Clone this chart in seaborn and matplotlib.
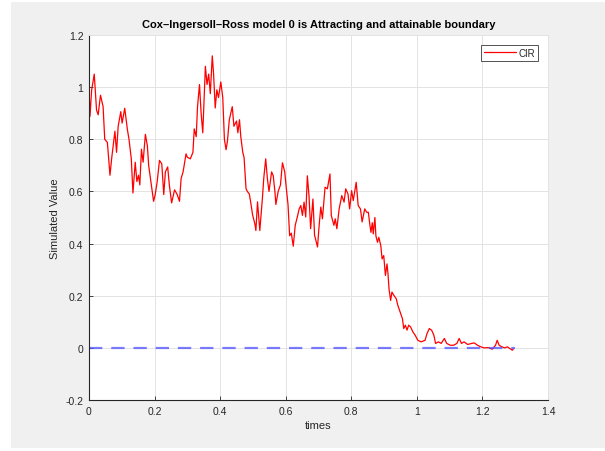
import matplotlib
matplotlib.use("Agg")
import matplotlib.pyplot as plt
from matplotlib.patches import Rectangle
import seaborn as sns

# simulated CIR path (rows of times / values line up)
times = [
    0.000, 0.003, 0.008, 0.016, 0.023, 0.028, 0.035, 0.043, 0.048, 0.056,
    0.064, 0.069, 0.079, 0.084, 0.089, 0.097, 0.101, 0.109, 0.117, 0.122,
    0.129, 0.134, 0.141, 0.146, 0.151, 0.155, 0.160, 0.165, 0.172, 0.178,
    0.182, 0.190, 0.197, 0.202, 0.208, 0.215, 0.222, 0.228, 0.233, 0.240,
    0.245, 0.252, 0.261, 0.269, 0.276, 0.281, 0.287, 0.296, 0.300,
    0.309, 0.317, 0.321, 0.327, 0.331, 0.337, 0.342, 0.347, 0.355, 0.360,
    0.365, 0.370, 0.376, 0.380, 0.385, 0.390, 0.395, 0.402, 0.408, 0.413,
    0.418, 0.422, 0.428, 0.437, 0.442, 0.450, 0.454, 0.459, 0.463, 0.469,
    0.473, 0.479, 0.483, 0.489, 0.493, 0.499, 0.506, 0.509, 0.514, 0.521,
    0.529, 0.533, 0.539, 0.544, 0.549, 0.557, 0.562, 0.567, 0.570, 0.577,
    0.584, 0.590, 0.597, 0.602, 0.607, 0.612, 0.617, 0.623, 0.629, 0.635,
    0.641, 0.646, 0.651, 0.656, 0.661, 0.666, 0.671, 0.676, 0.683, 0.688,
    0.697, 0.702, 0.707, 0.712, 0.720, 0.727, 0.735, 0.739, 0.747, 0.751,
    0.756, 0.763, 0.771, 0.778, 0.783, 0.790, 0.795, 0.801, 0.806, 0.815,
    0.821, 0.828, 0.833, 0.841, 0.847,
    0.852, 0.857, 0.860, 0.864, 0.867, 0.872, 0.875, 0.880, 0.884, 0.890,
    0.894, 0.899, 0.904, 0.909, 0.912, 0.915, 0.920, 0.924, 0.930, 0.937,
    0.942, 0.949, 0.956, 0.960, 0.965, 0.970, 0.975, 0.981, 0.988, 0.995,
    1.003, 1.013, 1.025, 1.031, 1.038, 1.045, 1.052, 1.057, 1.066, 1.074,
    1.084, 1.091, 1.102, 1.112, 1.122, 1.129, 1.136, 1.144, 1.155, 1.167,
    1.175, 1.185, 1.195, 1.205, 1.217, 1.230, 1.240, 1.245, 1.251, 1.259,
    1.268, 1.276, 1.284, 1.291, 1.294,
]
cir_values = [
    1.000, 0.888, 0.988, 1.050, 0.912, 0.894, 0.969, 0.925, 0.800, 0.788,
    0.662, 0.725, 0.831, 0.750, 0.850, 0.906, 0.862, 0.919, 0.838, 0.800,
    0.725, 0.594, 0.712, 0.638, 0.662, 0.625, 0.762, 0.712, 0.819, 0.775,
    0.700, 0.625, 0.562, 0.588, 0.638, 0.719, 0.706, 0.588, 0.675, 0.694,
    0.625, 0.556, 0.606, 0.588, 0.562, 0.650, 0.675, 0.744, 0.731,
    0.725, 0.750, 0.840, 0.810, 0.925, 1.010, 0.900, 0.825, 1.080, 1.010,
    1.050, 0.975, 1.120, 1.050, 0.920, 0.990, 0.960, 1.020, 0.960, 0.800,
    0.760, 0.790, 0.875, 0.925, 0.850, 0.870, 0.825, 0.875, 0.810, 0.750,
    0.730, 0.610, 0.600, 0.590, 0.560, 0.510, 0.475, 0.450, 0.560, 0.450,
    0.575, 0.650, 0.725, 0.650, 0.600, 0.675, 0.660, 0.600, 0.550, 0.600,
    0.625, 0.710, 0.675, 0.610, 0.550, 0.430, 0.440, 0.390, 0.470, 0.500,
    0.533, 0.546, 0.508, 0.559, 0.502, 0.660, 0.584, 0.457, 0.571, 0.432,
    0.387, 0.470, 0.540, 0.495, 0.616, 0.610, 0.667, 0.508, 0.470, 0.495,
    0.457, 0.533, 0.584, 0.559, 0.610, 0.590, 0.533, 0.603, 0.565, 0.635,
    0.546, 0.533, 0.483, 0.533, 0.520,
    0.520, 0.469, 0.443, 0.480, 0.437, 0.500, 0.430, 0.405, 0.424, 0.392,
    0.341, 0.354, 0.278, 0.322, 0.284, 0.227, 0.182, 0.214, 0.201, 0.189,
    0.163, 0.138, 0.112, 0.074, 0.087, 0.068, 0.087, 0.080, 0.061, 0.048,
    0.029, 0.023, 0.029, 0.055, 0.074, 0.068, 0.048, 0.017, 0.023, 0.017,
    0.036, 0.017, 0.010, 0.010, 0.017, 0.036, 0.017, 0.023, 0.013, 0.017,
    0.019, 0.010, 0.004, 0.000, 0.001, -0.005, 0.010, 0.029, 0.010, 0.004,
    0.000, 0.004, -0.003, -0.009, -0.005,
]

boundary_x = [0.0, 1.3]
boundary_y = [0.0, 0.0]

x_ticks = [0, 0.2, 0.4, 0.6, 0.8, 1.0, 1.2, 1.4]
y_ticks = [-0.2, 0, 0.2, 0.4, 0.6, 0.8, 1.0, 1.2]
x_labels = ["0", "0.2", "0.4", "0.6", "0.8", "1", "1.2", "1.4"]
y_labels = ["-0.2", "0", "0.2", "0.4", "0.6", "0.8", "1", "1.2"]

sns.set_theme(style="whitegrid")
plt.rcParams["font.family"] = ["Liberation Sans", "DejaVu Sans"]

fig = plt.figure(figsize=(6.05, 4.52), dpi=100, facecolor="white")
fig.patches.append(Rectangle((0.018, 0.0066), 0.982, 0.9868, transform=fig.transFigure,
                             facecolor="#f0f0f0", edgecolor="none", zorder=-10))
ax = fig.add_axes([89 / 605, 1 - 401 / 452, 459 / 605, 365 / 452])
ax.set_facecolor("white")

sns.lineplot(x=times, y=cir_values, color="red", linewidth=0.9, label="CIR",
             sort=False, estimator=None, ax=ax)
sns.lineplot(x=boundary_x, y=boundary_y, color="#5050ff", alpha=0.75, linewidth=1.6,
             linestyle=(0, (6, 4)), ax=ax)

ax.set_xlim(0, 1.4)
ax.set_ylim(-0.2, 1.2)
ax.set_xticks(x_ticks)
ax.set_xticklabels(x_labels)
ax.set_yticks(y_ticks)
ax.set_yticklabels(y_labels)
ax.grid(True, color="#e3e3e3", linewidth=0.7)
ax.tick_params(axis="both", labelsize=7.5, labelcolor="#262626", direction="in",
               length=3, width=0.6, color="#262626", pad=4,
               left=True, bottom=True)
for side in ["left", "bottom"]:
    ax.spines[side].set_color("#262626")
    ax.spines[side].set_linewidth(0.8)
for side in ["top", "right"]:
    ax.spines[side].set_color("#e3e3e3")
    ax.spines[side].set_linewidth(0.7)

ax.set_title("Cox\u2013Ingersoll\u2013Ross model 0 is Attracting and attainable boundary",
             fontsize=8, fontweight="bold", color="black", pad=6)
ax.set_xlabel("times", fontsize=8, color="#262626", labelpad=3)
ax.set_ylabel("Simulated Value", fontsize=8, color="#262626", labelpad=4)

leg = ax.legend(loc="upper right", fontsize=7, frameon=True, fancybox=False,
                handlelength=3.3, borderpad=0.3, handletextpad=0.25,
                borderaxespad=1.0)
leg.get_frame().set_edgecolor("#262626")
leg.get_frame().set_linewidth(0.7)
for text in leg.get_texts():
    text.set_color("#262626")

fig.savefig("out.png", dpi=100, facecolor=fig.get_facecolor())
